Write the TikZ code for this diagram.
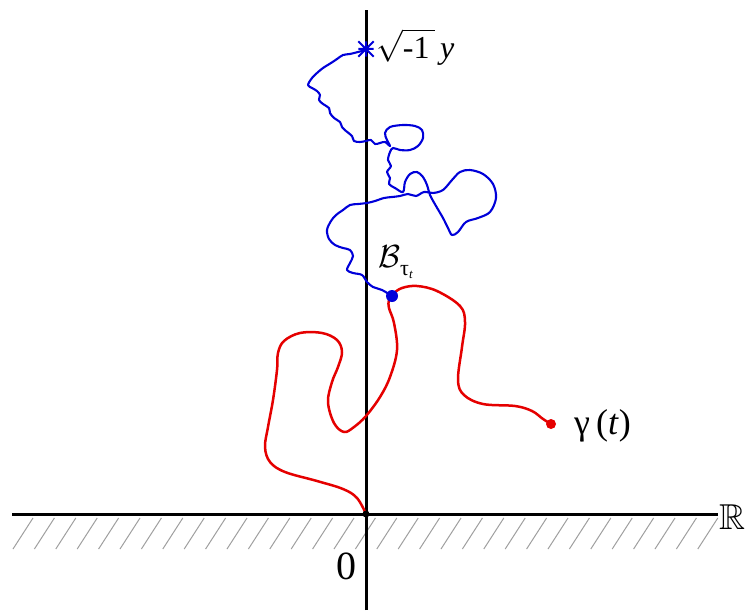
\RequirePackage{fix-cm}
\documentclass[tikz,border=0pt]{standalone}
\usepackage{amssymb}
\usepackage{fontspec}
\setmainfont{Liberation Serif}
\begin{document}
\begin{tikzpicture}[x=1pt,y=-1pt,
  axis/.style={line width=3pt,black},
  hatchline/.style={line width=1pt,gray!75},
  bm/.style={line width=2.1pt,blue!85!black,line join=round},
  redpath/.style={line width=2.5pt,red!90!black,line join=round},
  lbl/.style={inner sep=0pt,font=\fontsize{32}{32}\selectfont}]
\useasboundingbox (0,0) rectangle (751,610);
% hatching
\foreach \i in {0,...,32}{
  \draw[hatchline] ({33+21.4*\i},518) -- ({13+21.4*\i},549);
}
% axes
\coordinate (ytop) at (366,10);
\coordinate (ybot) at (366,610);
\coordinate (xl) at (12,514);
\coordinate (xr) at (718,514);
\draw[axis] (ybot) -- (ytop);
\draw[axis] (xl) -- (xr);
% red curve
\draw[redpath] plot[smooth,tension=0.6] coordinates{
(366,514) (357,498) (343,489) (317,481) (285,472) (270,462) (265,447) (268,427) (273,400) (277,370) (278,353) (284,341) (300,333) (322,333) (337,340) (342,352) (338,367) (332,382) (328,402) (334,423) (344,432) (354,427) (366,416) (380,397) (390,377) (397,350) (394,323) (389,308) (389,300) (393,294) (402,288) (417,286) (437,291) (460,306) (465,322) (462,347) (458,380) (464,395) (483,404) (515,406) (532,411) (543,419) (551,424)};
% blue curve
\draw[bm] plot[smooth,tension=0.55] coordinates{
(366,50) (358,52) (350,54) (343,55) (337,59) (331,63) (323,68) (317,73) (312,78) (308,85) (312,88) (317,91) (320,95) (319,100) (323,104) (329,108) (330,113) (334,118) (340,122) (342,127) (346,131) (352,136) (354,141) (360,142) (366,141) (371,140) (375,144) (380,143) (385,142) (390,146)
(387,140) (385,133) (390,127) (403,125) (415,126) (422,130) (423,138) (418,146) (410,150) (400,150) (393,148) (390,152)
(388,160) (391,166) (387,172) (390,178) (389,184) (395,188) (403,192)
(405,182) (410,174) (417,172) (423,177) (427,185) (430,195) (436,206) (443,218) (448,228) (452,235) (458,232) (466,222) (478,218) (490,212) (496,198) (493,184) (483,174) (470,170) (460,172) (452,180) (443,190) (433,193) (424,192) (416,196) (408,194) (400,196) (392,197) (384,198) (375,201) (367,203) (358,204) (350,205) (343,210) (336,215) (331,221) (327,230) (329,239) (335,245) (343,248) (350,250) (353,256) (350,263) (347,270) (353,273) (362,275) (367,282) (373,287) (382,290) (392,296)};
% markers
\node[circle,fill=red!90!black,inner sep=0pt,minimum size=10pt] (gend) at (551,424) {};
\node[circle,fill=blue!85!black,inner sep=0pt,minimum size=12pt] (btau) at (392,296) {};
\node[circle,fill=black,inner sep=0pt,minimum size=7pt] (orig) at (366,514) {};
\node[inner sep=0pt,minimum size=15pt] (ystar) at (366,49) {};
\draw[blue!85!black,line width=2pt] (ystar.north east) -- (ystar.south west) (ystar.north west) -- (ystar.south east) (ystar.west) -- (ystar.east) (ystar.north) -- (ystar.south);
% labels
\node[lbl,anchor=west] (ylab) at (376,47) {$\sqrt{\hbox{\fontsize{32}{32}\selectfont -1\,}}$\,\textit{y}};
\node[lbl,anchor=west] (blab) at (378,262) {\fontsize{32}{32}\selectfont$\mathcal{B}$\raisebox{-8pt}{\fontsize{22}{22}\selectfont τ\raisebox{-3pt}{\fontsize{13}{13}\selectfont\textit{t}}}};
\node[lbl,anchor=west,font=\fontsize{36}{36}\selectfont] (glab) at (574,426) {γ\,(\textit{t})};
\node[lbl,anchor=center,font=\fontsize{40}{40}\selectfont] (zero) at (346,566) {0};
\node[lbl,anchor=west,font=\fontsize{36}{36}\selectfont] (rlab) at (719,517) {$\mathbb{R}$};
\end{tikzpicture}
\end{document}
